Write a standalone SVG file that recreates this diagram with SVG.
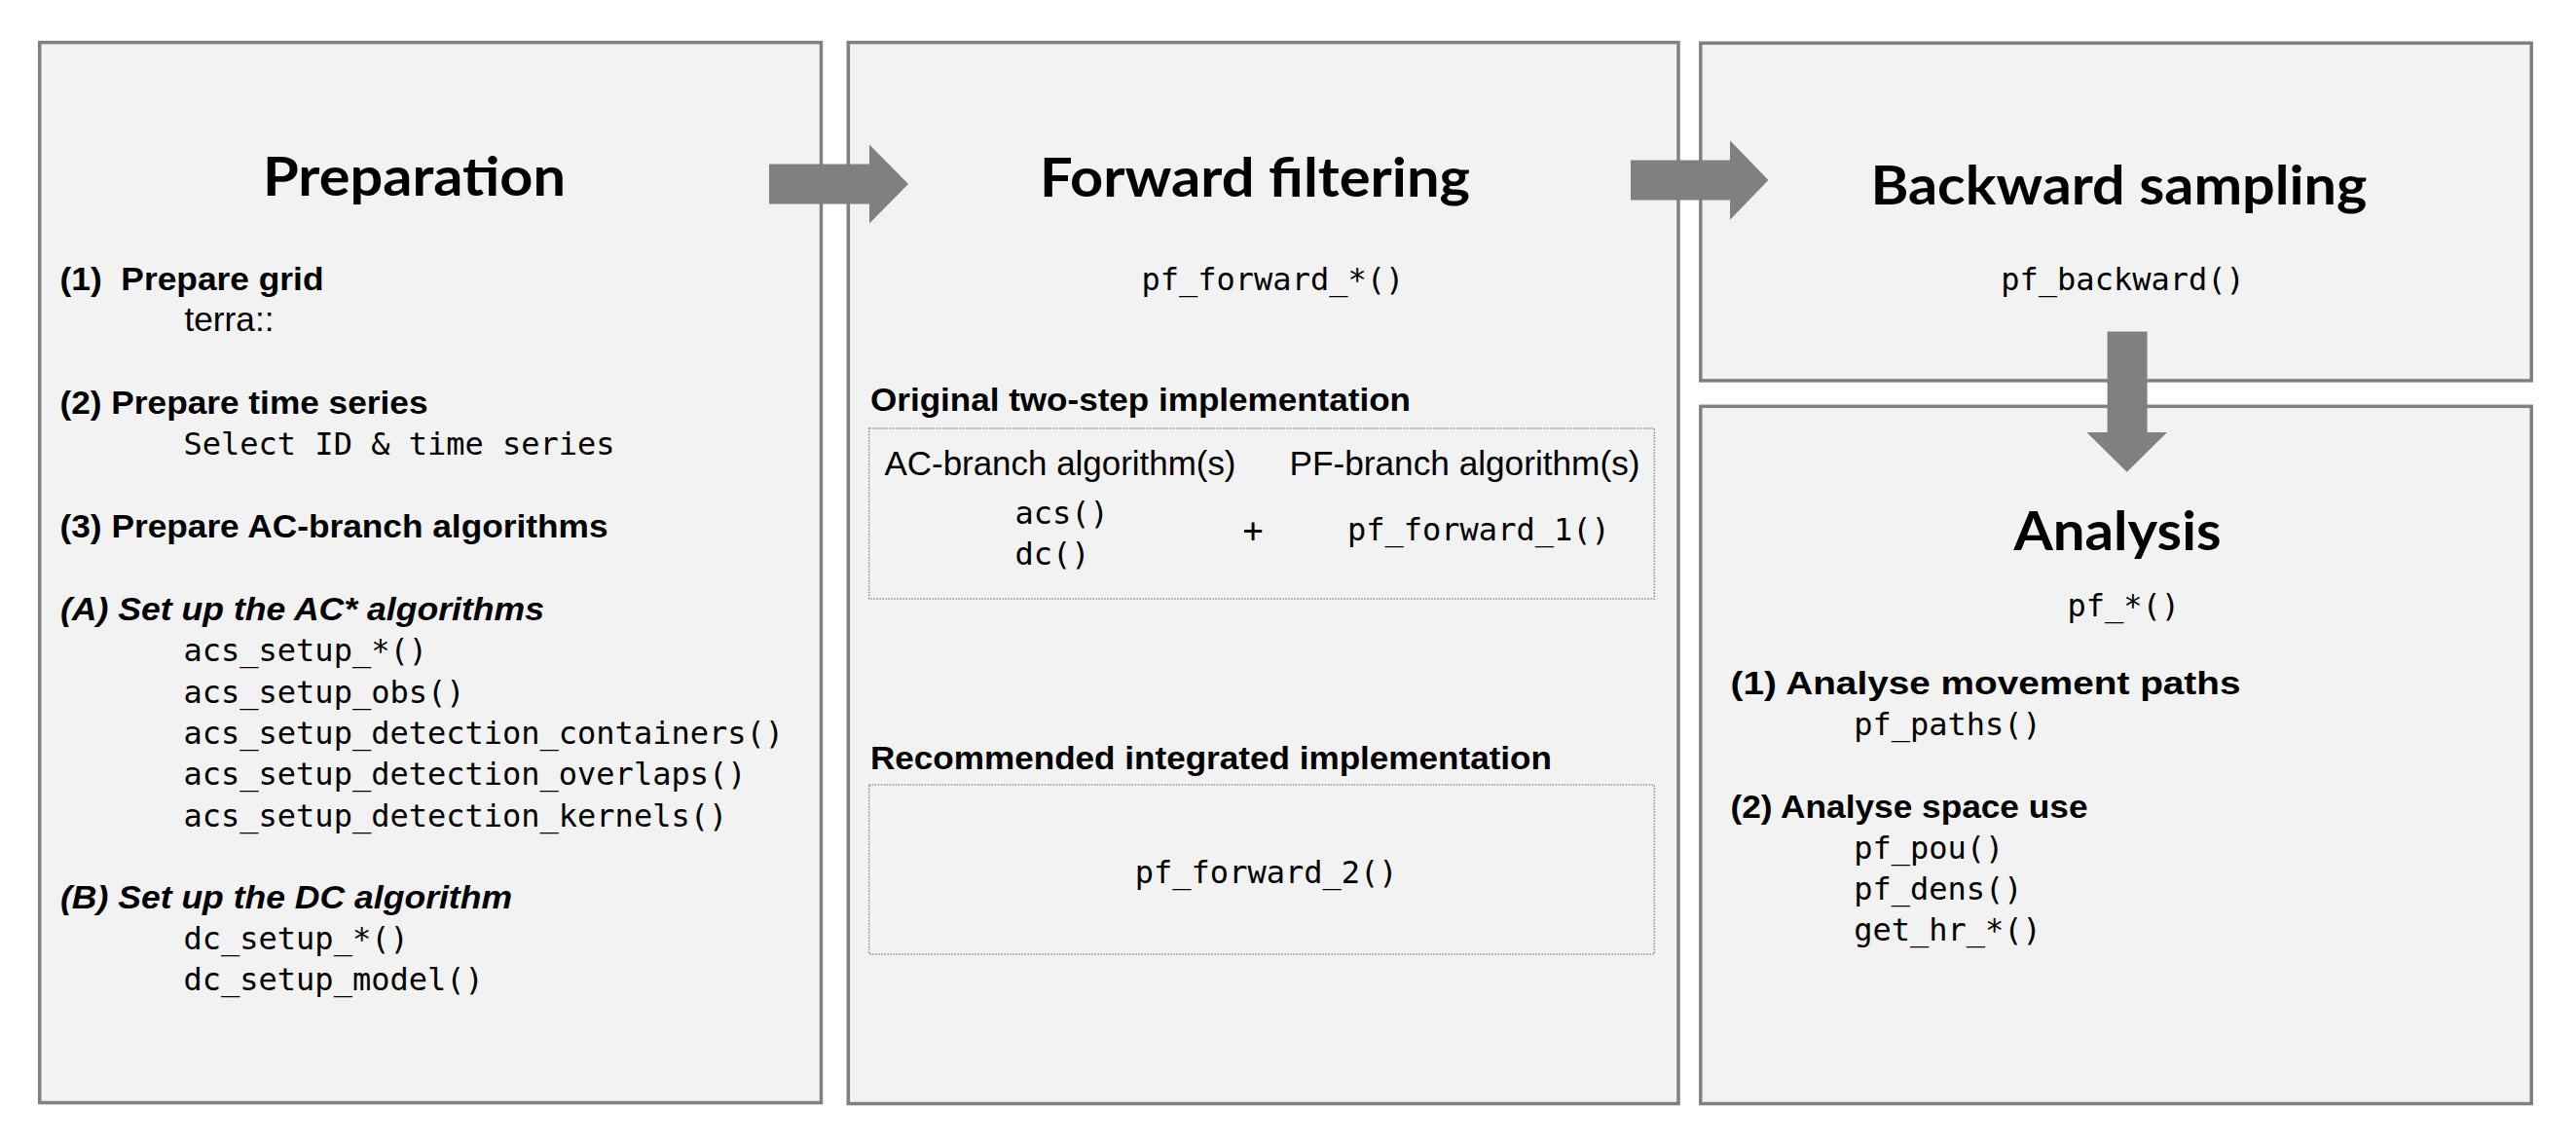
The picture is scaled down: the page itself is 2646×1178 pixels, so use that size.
<svg xmlns="http://www.w3.org/2000/svg" width="2646" height="1178" viewBox="0 0 2646 1178">
<style>
.box{fill:#f2f2f2;stroke:#808080;stroke-width:3.5}
.dot{fill:none;stroke:#8c8c8c;stroke-width:1.5;stroke-dasharray:1.5 1.5}
.title{font-family:Lato,"Open Sans",sans-serif;font-weight:700;font-size:56px;fill:#000}
.h{font-family:"Liberation Sans",Arial,sans-serif;font-weight:700;font-size:34px;fill:#000}
.hi{font-family:"Liberation Sans",Arial,sans-serif;font-weight:700;font-style:italic;font-size:34px;fill:#000}
.r{font-family:"Liberation Sans",Arial,sans-serif;font-size:35px;fill:#000}
.m{font-family:"DejaVu Sans Mono","Liberation Mono",monospace;font-size:32px;fill:#000}
.arrow{fill:#808080}
</style>
<rect width="2646" height="1178" fill="#ffffff"/>

<g id="preparation">
<rect class="box" x="40.7" y="43.6" width="802.8" height="1088.9"/>
<text class="title" x="270" y="201" textLength="311" lengthAdjust="spacingAndGlyphs">Preparation</text>
<text class="h" x="61.5" y="298" xml:space="preserve" textLength="271" lengthAdjust="spacingAndGlyphs">(1)  Prepare grid</text>
<text class="r" x="189.5" y="340" textLength="92" lengthAdjust="spacingAndGlyphs">terra::</text>
<text class="h" x="61.5" y="425" textLength="378" lengthAdjust="spacingAndGlyphs">(2) Prepare time series</text>
<text class="m" x="188.5" y="467.3">Select ID &amp; time series</text>
<text class="h" x="61.5" y="551.7" textLength="563" lengthAdjust="spacingAndGlyphs">(3) Prepare AC-branch algorithms</text>
<text class="hi" x="62" y="636.7" textLength="497" lengthAdjust="spacingAndGlyphs">(A) Set up the AC* algorithms</text>
<text class="m" x="188.5" y="679">acs_setup_*()</text>
<text class="m" x="188.5" y="721.5">acs_setup_obs()</text>
<text class="m" x="188.5" y="764">acs_setup_detection_containers()</text>
<text class="m" x="188.5" y="806.3">acs_setup_detection_overlaps()</text>
<text class="m" x="188.5" y="848.6">acs_setup_detection_kernels()</text>
<text class="hi" x="62" y="933.3" textLength="464" lengthAdjust="spacingAndGlyphs">(B) Set up the DC algorithm</text>
<text class="m" x="188.5" y="975">dc_setup_*()</text>
<text class="m" x="188.5" y="1016.7">dc_setup_model()</text>
</g>

<g id="forward-filtering">
<rect class="box" x="871.3" y="43.6" width="852.7" height="1089.9"/>
<text class="title" x="1068" y="201.7" textLength="442" lengthAdjust="spacingAndGlyphs">Forward filtering</text>
<text class="m" x="1172.5" y="298.3">pf_forward_*()</text>
<text class="h" x="894" y="421.7" textLength="555" lengthAdjust="spacingAndGlyphs">Original two-step implementation</text>
<rect class="dot" x="892.7" y="440" width="806.6" height="175"/>
<text class="r" x="908.5" y="488.3" textLength="361" lengthAdjust="spacingAndGlyphs">AC-branch algorithm(s)</text>
<text class="r" x="1324.5" y="488.3" textLength="360" lengthAdjust="spacingAndGlyphs">PF-branch algorithm(s)</text>
<text class="m" x="1042.5" y="538.3">acs()</text>
<text class="m" x="1042.5" y="580">dc()</text>
<text class="m" x="1287" y="557" text-anchor="middle" style="font-size:35px">+</text>
<text class="m" x="1384" y="555">pf_forward_1()</text>
<text class="h" x="894" y="790" textLength="700" lengthAdjust="spacingAndGlyphs">Recommended integrated implementation</text>
<rect class="dot" x="892.7" y="806" width="806.6" height="174"/>
<text class="m" x="1165.8" y="906.7">pf_forward_2()</text>
</g>

<g id="backward-sampling">
<rect class="box" x="1746.8" y="44.2" width="853.4" height="346.7"/>
<text class="title" x="1921.4" y="209.5" textLength="510" lengthAdjust="spacingAndGlyphs">Backward sampling</text>
<text class="m" x="2055.3" y="298">pf_backward()</text>
</g>

<g id="analysis">
<rect class="box" x="1746.8" y="417.3" width="853.4" height="716.2"/>
<text class="title" x="2068.5" y="564.5" textLength="213" lengthAdjust="spacingAndGlyphs">Analysis</text>
<text class="m" x="2123.5" y="633.3">pf_*()</text>
<text class="h" x="1777.5" y="713.3" textLength="524" lengthAdjust="spacingAndGlyphs">(1) Analyse movement paths</text>
<text class="m" x="1904.2" y="755">pf_paths()</text>
<text class="h" x="1777.5" y="840" textLength="367" lengthAdjust="spacingAndGlyphs">(2) Analyse space use</text>
<text class="m" x="1904.2" y="881.7">pf_pou()</text>
<text class="m" x="1904.2" y="923.5">pf_dens()</text>
<text class="m" x="1904.2" y="966">get_hr_*()</text>
</g>

<g id="connectors">
<polygon class="arrow" points="790,168.4 893,168.4 893,148.5 933,188.9 893,229.5 893,209.4 790,209.4"/>
<polygon class="arrow" points="1675,164.5 1777,164.5 1777,144.3 1816.4,185 1777,225.8 1777,205.5 1675,205.5"/>
<polygon class="arrow" points="2164.6,340.6 2205.6,340.6 2205.6,444 2226,444 2184.7,484.8 2143.4,444 2164.6,444"/>
</g>
</svg>
